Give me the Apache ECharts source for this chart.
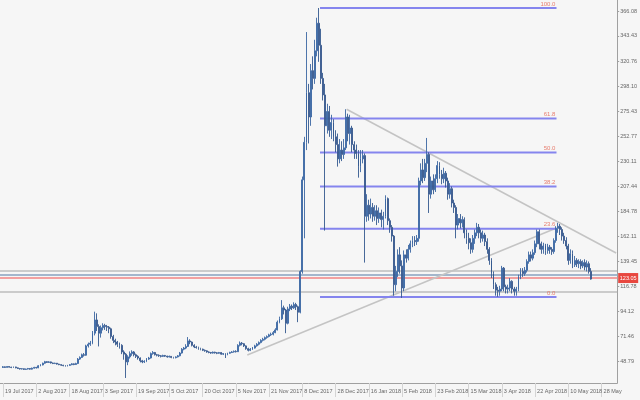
<!DOCTYPE html>
<html><head><meta charset="utf-8">
<script src="https://cdn.jsdelivr.net/npm/echarts@6/dist/echarts.min.js"></script>
<style>html,body{margin:0;padding:0;background:#f6f6f6}#c{width:640px;height:400px}</style>
</head><body><div id="c"></div>
<script>
// Daily candles [open, close, low, high], first candle = 19 Jul 2017
const ohlc = [
[43.0,43.5,42.5,44.2],[43.5,43.0,42.6,43.9],[43.0,43.8,42.8,44.2],[43.8,43.2,42.9,44.0],[43.2,42.9,42.3,43.6],
[42.9,43.4,42.6,43.8],[43.4,42.6,42.2,43.6],[42.6,42.0,41.5,42.9],[42.0,41.6,41.0,42.3],[41.6,41.8,41.1,42.3],
[41.8,41.2,40.7,42.0],[41.2,41.5,40.8,41.9],[41.5,42.0,41.1,42.5],[42.0,41.4,40.9,42.3],[41.4,42.3,41.0,42.8],
[42.3,43.0,41.9,43.5],[43.0,42.6,42.0,43.4],[42.6,44.5,42.3,45.0],[44.5,45.2,44.0,45.9],[45.2,46.8,44.8,47.3],
[46.8,48.2,46.3,48.9],[48.2,47.5,47.0,48.6],[47.5,48.0,47.0,48.7],[48.0,47.0,46.5,48.3],[47.0,46.5,46.0,47.4],
[46.5,46.8,46.0,47.3],[46.8,46.0,45.5,47.0],[46.0,45.5,45.0,46.3],[45.5,45.0,44.4,45.8],[45.0,44.6,44.0,45.3],
[44.6,44.2,43.7,45.0],[44.2,44.8,43.9,45.3],[44.8,45.5,44.5,46.0],[45.5,46.2,45.0,46.8],[46.2,45.6,45.0,46.6],
[45.6,46.5,45.2,47.2],[46.5,50.5,46.0,51.5],[50.5,52.0,49.8,53.0],[52.0,54.5,51.5,55.5],[54.5,54.0,52.8,56.0],
[54.0,62.5,53.5,63.5],[62.5,64.0,61.0,65.5],[64.0,65.0,62.5,67.0],[65.0,74.0,64.0,76.0],[74.0,86.0,72.0,93.5],
[86.0,80.0,76.0,92.0],[80.0,74.0,62.0,82.0],[74.0,79.0,70.0,81.0],[79.0,81.0,76.5,83.0],[81.0,80.0,77.0,82.5],
[80.0,79.5,76.0,81.5],[79.5,78.0,74.0,80.5],[78.0,71.0,69.0,79.0],[71.0,67.5,65.0,72.5],[67.5,66.0,63.0,69.0],
[66.0,64.0,61.5,67.0],[64.0,63.0,60.0,65.5],[63.0,57.0,55.0,64.0],[57.0,55.0,50.0,58.5],[55.0,48.0,33.4,56.0],
[48.0,52.5,45.0,54.0],[52.5,55.5,51.0,57.5],[55.5,57.0,53.5,58.5],[57.0,54.5,53.0,57.8],[54.5,53.0,51.5,55.5],
[53.0,51.5,50.0,54.0],[51.5,49.0,47.5,52.0],[49.0,48.0,46.8,49.8],[48.0,48.5,47.0,49.5],[48.5,50.5,47.8,51.5],
[50.5,51.5,49.8,52.5],[51.5,55.5,51.0,56.5],[55.5,56.5,54.5,57.8],[56.5,54.5,53.8,57.0],[54.5,54.0,53.0,55.2],
[54.0,53.5,52.5,54.8],[53.5,53.0,52.0,54.2],[53.0,53.8,52.4,54.5],[53.8,53.2,52.5,54.3],[53.2,52.5,51.8,53.6],
[52.5,53.0,52.0,53.7],[53.0,52.0,51.3,53.3],[52.0,51.8,51.0,52.6],[51.8,52.5,51.2,53.0],[52.5,53.5,52.0,54.2],
[53.5,56.0,53.0,57.0],[56.0,59.5,55.5,60.5],[59.5,60.5,58.5,61.5],[60.5,62.0,59.5,64.0],[62.0,67.0,61.5,70.5],
[67.0,66.0,64.0,68.5],[66.0,63.0,62.0,66.5],[63.0,61.5,60.5,64.0],[61.5,61.0,60.0,62.5],[61.0,60.0,59.0,61.8],
[60.0,59.5,58.5,60.8],[59.5,58.5,57.8,60.0],[58.5,58.0,57.2,59.2],[58.0,57.0,56.3,58.5],[57.0,56.5,55.8,57.6],
[56.5,56.0,55.3,57.0],[56.0,56.8,55.5,57.4],[56.8,56.2,55.5,57.2],[56.2,55.8,55.0,56.8],[55.8,56.5,55.3,57.0],
[56.5,55.0,54.5,56.8],[55.0,55.5,54.2,56.0],[55.5,54.5,51.5,55.8],[54.5,55.8,54.0,56.3],[55.8,56.5,55.3,57.2],
[56.5,57.0,56.0,57.8],[57.0,57.5,56.4,58.3],[57.5,57.2,56.5,58.5],[57.2,63.0,57.0,64.0],[63.0,65.0,62.0,66.5],
[65.0,64.5,63.0,66.0],[64.5,62.5,61.5,65.0],[62.5,60.0,59.0,63.0],[60.0,58.5,57.5,60.8],[58.5,59.5,57.8,60.5],
[59.5,60.5,58.8,61.5],[60.5,62.5,60.0,63.5],[62.5,64.0,61.8,65.0],[64.0,65.5,63.0,66.5],[65.5,67.5,64.8,68.5],
[67.5,68.5,66.5,69.8],[68.5,70.0,67.5,71.0],[70.0,71.0,69.0,72.0],[71.0,72.5,70.2,73.5],[72.5,73.0,71.5,74.5],
[73.0,74.5,72.0,76.0],[74.5,77.0,74.0,78.5],[77.0,84.0,76.5,85.5],[84.0,87.0,83.0,89.0],[87.0,97.0,86.0,104.0],
[97.0,95.0,91.0,99.0],[95.0,83.0,74.0,96.0],[83.0,96.0,82.0,98.0],[96.0,98.5,94.0,100.5],[98.5,97.0,95.0,100.0],
[97.0,100.0,96.0,102.0],[100.0,98.0,95.0,101.5],[98.0,93.0,84.0,99.0],[93.0,130.0,92.0,131.0],[130,213,128,216],
[213,247,160,252],[247,292,240,347],[292,270,246,300],[270,312,262,318],[312,305,295,325],
[305,330,300,340],[330,355,325,360],[355,335,320,368.8],[335,305,300,350],[305,290,285,310],
[290,262,167,300],[262,275,255,282],[275,258,252,280],[258,265,250,272],[265,252,248,268],
[252,245,238,258],[245,232,225,255],[232,240,228,250],[240,236,230,248],[236,242,232,250],
[242,270,240,277],[270,255,248,273],[255,260,245,272],[260,245,238,262],[245,240,232,248],
[240,237,232,245],[237,225,215,240],[225,232,220,240],[232,235,228,240],[235,180,138,237],
[180,190,175,200],[190,182,176,195],[182,188,178,196],[188,180,175,192],[180,185,176,190],
[185,178,172,190],[178,183,174,188],[183,177,170,186],[177,180,168,184],[180,196,178,199],
[196,176,172,197],[176,170,165,178],[170,162,157,172],[162,118,108,163],[118,130,112,135],
[130,145,125,150],[145,135,128,152],[135,115,106,140],[115,145,112,149],[145,142,138,150],
[142,150,140,154],[150,155,147,158],[155,158,152,162],[158,157,153,162],[157,160,154,163],
[160,212,157,215],[212,222,208,228],[222,215,210,232],[215,228,212,232],[228,236,220,251],
[236,200,183,238],[200,212,196,216],[212,204,200,218],[204,214,202,218],[214,226,210,230],
[226,218,214,229],[218,214,209,222],[214,219,210,224],[219,212,206,221],[212,200,195,215],
[200,205,196,210],[205,192,188,207],[192,188,183,195],[188,172,160,190],[172,178,168,182],
[178,174,169,182],[174,177,170,180],[177,165,160,179],[165,160,155,168],[160,156,150,165],
[156,150,146,160],[150,160,147,163],[160,165,155,168],[165,170,162,174],[170,165,160,173],
[165,160,156,168],[160,163,157,167],[163,157,153,165],[157,150,146,160],[150,140,136,152],
[140,128,124,142],[128,118,114,130],[118,113,108,120],[113,112,107,116],[112,114,108,117],
[114,133,112,135],[133,116,112,134],[116,114,110,118],[114,115,110,118],[115,121,112,124],
[121,114,110,122],[114,112,108,116],[112,114,108,116],[114,125,112,127],[125,130,123,133],
[130,128,125,133],[128,131,126,134],[131,139,129,141],[139,145,137,148],[145,142,139,148],
[142,147,140,150],[147,155,145,158],[155,166,152,168],[166,155,150,168],[155,150,146,157],
[150,153,146,156],[153,149,145,155],[149,152,146,155],[152,150,146,154],[150,148,145,152],
[148,158,146,160],[158,169,156,171],[169,171,165,174],[171,168,163,173],[168,162,158,170],
[162,158,155,165],[158,153,150,161],[153,140,136,155],[140,146,137,150],[146,136,133,149],
[136,140,134,144],[140,137,134,142],[137,139,133,141],[139,135,132,141],[135,138,133,140],
[138,134,131,141],[134,137,130,140],[137,130,128,139],[130,123.05,122.5,133]
];
const xTickLabels = ['19 Jul 2017','2 Aug 2017','18 Aug 2017','3 Sep 2017','19 Sep 2017','5 Oct 2017','20 Oct 2017','5 Nov 2017','21 Nov 2017','8 Dec 2017','28 Dec 2017','16 Jan 2018','5 Feb 2018','23 Feb 2018','15 Mar 2018','3 Apr 2018','22 Apr 2018','10 May 2018','28 May'];
const yTickLabels = [48.79,71.46,94.12,116.78,139.45,162.11,184.78,207.44,230.11,252.77,275.43,298.10,320.76,343.43,366.08];
const fibRatios = [0.0, 23.6, 38.2, 50.0, 61.8, 100.0];
const fibLow = 106.8, fibHigh = 368.8;
const fibFrom = 153.5, fibTo = 267.3;        // bar index span of the Fibonacci levels
const trendUp = [[118.5, 54.2], [267.3, 169.4]];
const trendDown = [[166.3, 277.0], [296.0, 146.7]];
const grayLevels = [130.4, 111.3];
const bidLevel = 126.8, askLevel = 124.0, lastPrice = '123.05';
const nCats = 297, firstBar = 1, labelEvery = 16;

const cats = Array.from({length: nCats}, (_, i) => String(i));
const tickPos = xTickLabels.map((_, k) => firstBar + k * labelEvery);
const FF = '"Liberation Sans Narrow","Liberation Sans",Arial,sans-serif';

const series = [];
series.push({
  type: 'candlestick', xAxisIndex: 0, yAxisIndex: 0,
  data: ohlc.map((r, i) => [i + firstBar, r[0], r[1], r[2], r[3]]),
  encode: {x: 0, y: [1, 2, 3, 4]},
  barWidth: 1.4,
  itemStyle: {color: '#5b8fd0', color0: '#8f6f8e', borderColor: '#3b66a3', borderColor0: '#34598f', borderWidth: 0.9},
  animation: false, z: 5
});
function seg(pts, color, width, z) {
  series.push({type: 'line', xAxisIndex: 1, yAxisIndex: 0, data: pts, symbol: 'none', silent: true,
    lineStyle: {color, width}, z: z || 3, animation: false});
}
grayLevels.forEach(v => seg([[-0.5, v], [296.5, v]], '#bdbdbd', 1.5, 2));
seg([[-0.5, bidLevel], [296.5, bidLevel]], '#a3b6cc', 2, 2);
seg([[-0.5, askLevel], [296.5, askLevel]], '#f2a0a0', 2, 2);
seg(trendUp, '#c4c4c4', 1.5, 3);
seg(trendDown, '#c4c4c4', 1.5, 3);
const fibLevels = fibRatios.map(r => fibLow + (fibHigh - fibLow) * r / 100);
fibLevels.forEach(v => seg([[fibFrom, v], [fibTo, v]], '#8585ee', 2, 4));
series.push({type: 'scatter', xAxisIndex: 1, yAxisIndex: 0, symbolSize: 0.1, silent: true, z: 6, animation: false,
  data: fibLevels.map((v, i) => ({value: [fibTo, v], name: fibRatios[i].toFixed(1)})),
  label: {show: true, position: 'left', distance: 1, offset: [0, -4], formatter: p => p.name,
    color: '#e4604e', fontSize: 6, fontFamily: FF}
});
// last price box on the price scale
series.push({type: 'line', xAxisIndex: 1, yAxisIndex: 0, data: [[296.5, askLevel]], symbol: 'none', silent: true, z: 10,
  animation: false, lineStyle: {width: 0},
  markPoint: {symbol: 'rect', symbolSize: [20, 10], symbolOffset: [11, 0], itemStyle: {color: '#e8473f'},
    label: {show: true, formatter: lastPrice, color: '#fff', fontSize: 5.5, fontFamily: FF},
    data: [{coord: [296.5, askLevel]}]}
});

const chart = echarts.init(document.getElementById('c'), null, {renderer: 'canvas'});
chart.setOption({
  backgroundColor: '#f6f6f6',
  animation: false,
  grid: {left: 0, right: 21, top: 0, bottom: 17},
  xAxis: [{
    type: 'category', data: cats, boundaryGap: true,
    axisLine: {show: true, onZero: false, lineStyle: {color: '#a0a0a0'}},
    axisTick: {show: false}, axisLabel: {show: false}, splitLine: {show: false}
  }, {
    type: 'value', min: -0.5, max: nCats - 0.5, position: 'bottom',
    axisLine: {show: false, onZero: false},
    axisTick: {show: true, customValues: tickPos, length: 14, lineStyle: {color: '#d4d4d4'}},
    axisLabel: {show: true, customValues: tickPos, formatter: v => xTickLabels[(v - firstBar) / labelEvery] || '',
      align: 'left', padding: [0, 0, 0, 2], margin: 5, color: '#666', fontSize: 5.5, fontFamily: FF,
      showMinLabel: true, showMaxLabel: true},
    splitLine: {show: false}
  }],
  yAxis: [{
    type: 'value', position: 'right', min: 28.85, max: 376.05,
    axisLine: {show: true, onZero: false, lineStyle: {color: '#a0a0a0'}},
    axisTick: {show: true, customValues: yTickLabels, length: 2, lineStyle: {color: '#a0a0a0'}},
    axisLabel: {customValues: yTickLabels, formatter: v => v.toFixed(2), margin: 3, color: '#666', fontSize: 5.5, fontFamily: FF},
    splitLine: {show: false}
  }],
  series
});
</script>
</body></html>
